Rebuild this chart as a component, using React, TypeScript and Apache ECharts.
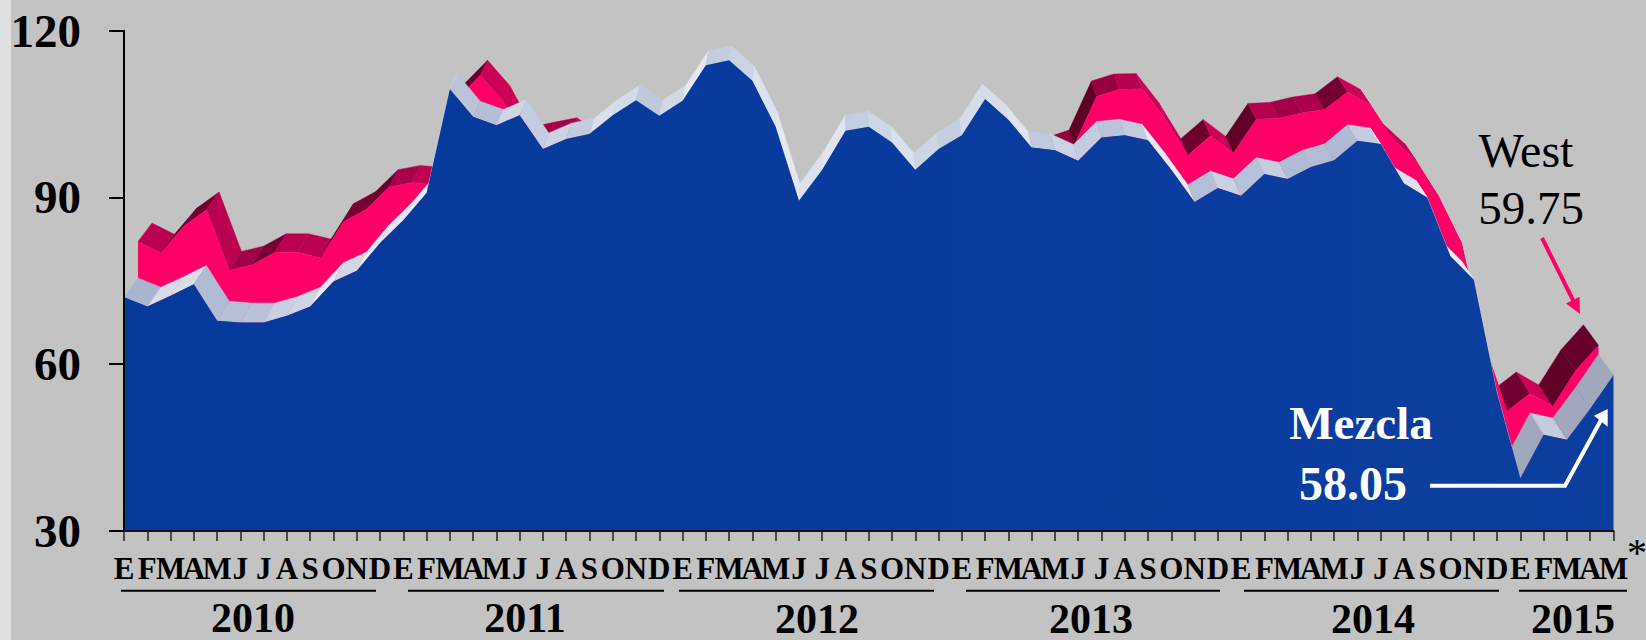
import React, { useEffect, useRef } from "react";
import * as echarts from "echarts";

const monthLetters = ["E", "F", "M", "A", "M", "J", "J", "A", "S", "O", "N", "D"];
const yTicks = [30, 60, 90, 120];
const mezcla = [
  72.1, 70.4, 72.3, 74.4, 67.8, 67.5, 67.5, 68.7, 70.4, 74.9, 76.8, 81.8,
  85.9, 90.8, 109.5, 104.5, 103, 104.8, 98.7, 100.5, 101.4, 104.8, 107.5, 104.7,
  107.4, 113.8, 114.7, 111, 102.7, 89.4, 95, 102, 102.7, 99.9, 95, 98.7,
  101.2, 107.7, 104, 99, 98.5, 96.6, 100.8, 101.2, 100.3, 95, 89.2, 91.7,
  90.3, 94.2, 93.3, 95.5, 96.7, 100.2, 99.6, 92.5, 90, 79.4, 75.2, 54.8,
  39.5, 47.3, 46.4, 52, 58.05,
];
const west = [
  78.8, 76.7, 81.6, 84.6, 73.5, 74.5, 76.8, 76.8, 75.8, 82.4, 84.7, 88.8,
  89.6, 89.2, 105, 109.3, 104.5, 96.8, 97.7, 98.5, 95.6, 86.4, 97.2, 98.6,
  100.3, 102.3, 106.2, 103.3, 94.7, 82.3, 87.9, 94.1, 94.5, 89.5, 86.5, 87.9,
  94.8, 95.3, 92.9, 92, 94.8, 96.2, 105.4, 106.7, 106.8, 101.4, 94.6, 98.2,
  95, 101.2, 101.4, 102.4, 103, 106.2, 103.9, 97.5, 93.7, 87, 78.5, 60,
  47.7, 50.9, 48.5, 55.1, 59.75,
];
const months = mezcla.map((_, i) => monthLetters[i % 12]);
const years = [
  { label: "2010", x: 253, y: 618, from: 121, to: 376 },
  { label: "2011", x: 525, y: 618, from: 408, to: 664 },
  { label: "2012", x: 817, y: 618.5, from: 679, to: 934 },
  { label: "2013", x: 1091, y: 618.5, from: 966, to: 1220 },
  { label: "2014", x: 1373, y: 618.5, from: 1244, to: 1499 },
  { label: "2015", x: 1573, y: 618.5, from: 1519, to: 1627 },
];

const SERIF = '"Liberation Serif", "Times New Roman", serif';
const VP = [843, -680];
const K1 = 0.0195;
const K2 = 0.039;

const project = (p: number[], k: number) => [p[0] + k * (VP[0] - p[0]), p[1] + k * (VP[1] - p[1])];

function hex(c: string) {
  return [parseInt(c.slice(1, 3), 16), parseInt(c.slice(3, 5), 16), parseInt(c.slice(5, 7), 16)];
}
function mix(a: string, b: string, t: number) {
  const A = hex(a), B = hex(b);
  const u = Math.max(0, Math.min(1, t));
  return `rgb(${A.map((v, i) => Math.round(v + (B[i] - v) * u)).join(",")})`;
}
function westShade(a: number[], b: number[]) {
  const s = (a[1] - b[1]) / (b[0] - a[0]);
  if (s < 0) {
    const desc = a[0] < 300 ? "#bb0050" : "#cc0055";
    return mix("#bb0050", desc, -s / 0.3);
  }
  const stops: [number, string][] = [
    [0, "#bb0050"], [0.2, "#a8004a"], [0.5, "#7c0035"], [1.2, "#630028"], [4, "#5e0026"],
  ];
  for (let i = 1; i < stops.length; i++) {
    if (s <= stops[i][0]) {
      const t = (s - stops[i - 1][0]) / (stops[i][0] - stops[i - 1][0]);
      return mix(stops[i - 1][1], stops[i][1], t);
    }
  }
  return stops[stops.length - 1][1];
}
function mezclaShade(a: number[], b: number[], aBack: number[]) {
  const sx = b[0] - a[0], sy = b[1] - a[1];
  if (a[0] > 1450 && -sy / sx > 0.5) return "#9fa8bc";
  const ox = aBack[0] - a[0], oy = aBack[1] - a[1];
  const sin = Math.abs(sx * oy - sy * ox) / (Math.hypot(sx, sy) * Math.hypot(ox, oy));
  const edge = Math.min(1, Math.abs(a[0] - VP[0]) / 740);
  const base = mix("#c2cde1", "#a4b0cc", edge);
  const m = base.match(/\d+/g)!.map(Number);
  const t = Math.pow(sin, 1.6);
  const w = [238, 241, 246];
  return `rgb(${w.map((v, i) => Math.round(v + (m[i] - v) * t)).join(",")})`;
}

const segments = (vals: number[]) => vals.slice(0, -1).map((v, i) => [i, v, vals[i + 1]]);

function faceSeries(vals: number[], k0: number, k1: number, shade: (a: number[], b: number[], c: number[]) => string) {
  return {
    type: "custom",
    coordinateSystem: "cartesian2d",
    clip: false,
    silent: true,
    encode: { x: 0, y: 1 },
    data: segments(vals),
    renderItem: (_p: any, api: any) => {
      const i = api.value(0);
      const a = project(api.coord([i, api.value(1)]), k0);
      const b = project(api.coord([i + 1, api.value(2)]), k0);
      const c = project(api.coord([i + 1, api.value(2)]), k1);
      const d = project(api.coord([i, api.value(1)]), k1);
      const fill = shade(a, b, d);
      return {
        type: "polygon",
        shape: { points: [a, b, c, d] },
        style: { fill, stroke: fill, lineWidth: 0.4 },
      };
    },
  };
}

export default function App() {
  const ref = useRef<HTMLDivElement>(null);
  useEffect(() => {
    document.body.style.margin = "0";
    const chart = echarts.init(ref.current!, undefined, { renderer: "svg" });
    const text = (t: string, x: number, y: number, size: number, fill: string, weight = "normal") => ({
      type: "text",
      x,
      y,
      z: 100,
      style: { text: t, fill, font: `${weight} ${size}px ${SERIF}`, align: "center", verticalAlign: "middle" },
    });
    chart.setOption({
      animation: false,
      backgroundColor: "#c3c3c3",
      grid: { left: 124, top: 30.7, width: 1489.5, height: 500.3, containLabel: false },
      xAxis: {
        type: "category",
        data: months,
        boundaryGap: false,
        z: 20,
        splitLine: { show: false },
        axisLine: { show: true, lineStyle: { color: "#111", width: 2 } },
        axisTick: { show: true, interval: 0, length: 10, lineStyle: { color: "#222", width: 1.5 } },
        axisLabel: {
          show: true,
          margin: 22,
          interval: 0,
          hideOverlap: false,
          color: "#000",
          fontFamily: SERIF,
          fontWeight: "bold",
          fontSize: 31,
        },
      },
      yAxis: {
        type: "value",
        min: yTicks[0],
        max: yTicks[yTicks.length - 1],
        interval: 30,
        z: 20,
        splitLine: { show: false },
        axisLine: { show: true, onZero: false, lineStyle: { color: "#000", width: 2 } },
        axisTick: { show: true, length: 15, lineStyle: { color: "#000", width: 2 } },
        axisLabel: { show: true, margin: 43, color: "#000", fontFamily: SERIF, fontWeight: "bold", fontSize: 47 },
      },
      series: [
        faceSeries(west, K1, K2, westShade),
        {
          type: "custom",
          coordinateSystem: "cartesian2d",
          clip: false,
          silent: true,
          encode: { x: 0, y: 1 },
          data: [[0, west[0]]],
          renderItem: (_p: any, api: any) => {
            const top = west.map((v, i) => project(api.coord([i, v]), K1));
            const base = [
              project(api.coord([west.length - 1, yTicks[0]]), K1),
              project(api.coord([0, yTicks[0]]), K1),
            ];
            return {
              type: "polygon",
              shape: { points: [...top, ...base] },
              style: { fill: "#ff0066" },
            };
          },
        },
        faceSeries(mezcla, 0, K1, mezclaShade),
        {
          type: "line",
          silent: true,
          symbol: "none",
          data: mezcla,
          lineStyle: { width: 0 },
          areaStyle: {
            opacity: 1,
            color: new echarts.graphic.LinearGradient(0, 0, 1, 0, [
              { offset: 0, color: "#06399c" },
              { offset: 1, color: "#0c3ea0" },
            ]),
          },
        },
      ],
      graphic: [
        { type: "rect", x: 0, y: 0, z: -1, shape: { width: 11, height: 640 }, style: { fill: "#e0e0e0" } },
        ...years.flatMap((yr) => [
          { type: "line", z: 100, shape: { x1: yr.from, y1: 590.7, x2: yr.to, y2: 590.7 }, style: { stroke: "#000", lineWidth: 2 } },
          text(yr.label, yr.x, yr.y, 42, "#000", "bold"),
        ]),
        text("*", 1637, 552, 40, "#000"),
        text("West", 1526, 150, 48, "#000"),
        text("59.75", 1531, 208, 47, "#000"),
        text("Mezcla", 1361, 423, 47, "#fff", "bold"),
        text("58.05", 1353, 483, 48, "#fff", "bold"),
        { type: "line", z: 100, shape: { x1: 1542, y1: 238, x2: 1575, y2: 304 }, style: { stroke: "#ff0066", lineWidth: 4 } },
        { type: "polygon", z: 100, shape: { points: [[1566, 303.5], [1579.5, 296.7], [1580, 314]] }, style: { fill: "#ff0066" } },
        { type: "polyline", z: 100, shape: { points: [[1430, 485.7], [1565, 485.7], [1601, 420]] }, style: { stroke: "#fff", lineWidth: 4, fill: "none" } },
        { type: "polygon", z: 100, shape: { points: [[1594, 415.7], [1607.7, 409], [1607.7, 426.7]] }, style: { fill: "#fff" } },
      ],
    });
    return () => chart.dispose();
  }, []);
  return <div ref={ref} style={{ position: "absolute", left: 0, top: 0, width: 1646, height: 640 }} />;
}
